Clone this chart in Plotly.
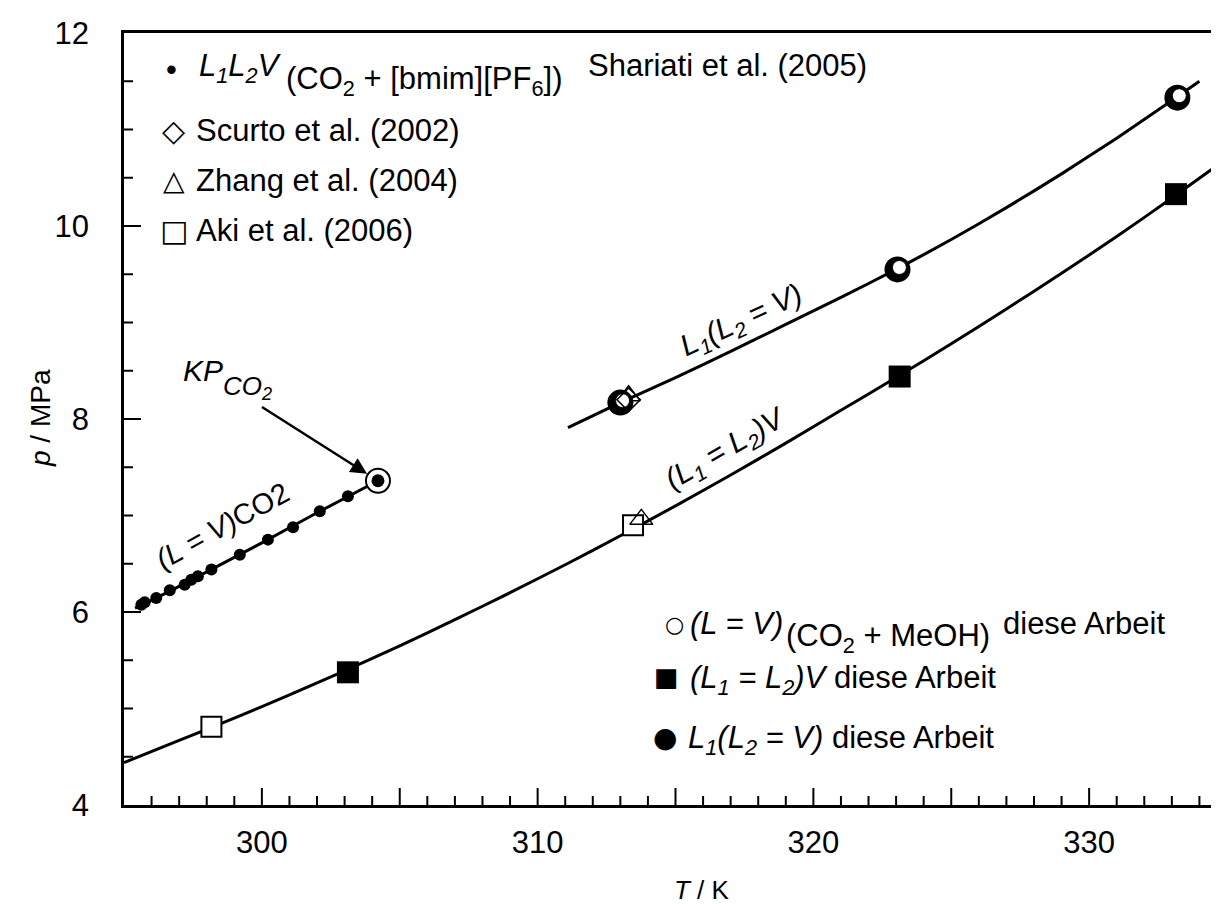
import plotly.graph_objects as go

# ---------------- data ----------------
# CO2 vapour pressure, Shariati et al. (2005)
co2_T = [295.63, 295.75, 296.17, 296.66, 297.20, 297.44, 297.68, 298.17,
         299.20, 300.22, 301.13, 302.10, 303.12, 304.21]
co2_p = [6.076, 6.10, 6.145, 6.225, 6.283, 6.335, 6.37, 6.44,
         6.594, 6.75, 6.878, 7.044, 7.20, 7.36]
co2_curve_T = [295.40, 296.0, 298.0, 300.0, 302.0, 304.21]
co2_curve_p = [6.04, 6.12, 6.415, 6.717, 7.028, 7.36]

# critical point of CO2
kp_T = [304.21]
kp_p = [7.36]

# L1(L2 = V) curve
upper_T = [311.1, 313, 315, 317, 319, 321, 323, 325, 327, 329, 331, 333, 334]
upper_p = [7.91, 8.17, 8.43, 8.70, 8.98, 9.26, 9.55, 9.86, 10.19, 10.54, 10.91, 11.30, 11.50]

# (L1 = L2)V curve
lower_T = [295, 297, 299, 301, 303, 305, 307, 309, 311, 313, 315,
           317, 319, 321, 323, 325, 327, 329, 331, 333, 335]
lower_p = [4.44, 4.67, 4.90, 5.14, 5.39, 5.65, 5.92, 6.20, 6.49, 6.79, 7.10,
           7.42, 7.75, 8.09, 8.43, 8.78, 9.14, 9.51, 9.89, 10.29, 10.70]

# this work
lcep_T = [303.12, 323.13, 333.15]          # (L1 = L2)V  filled squares
lcep_p = [5.375, 8.44, 10.33]
ucep_T = [313.0, 323.05, 333.2]            # L1(L2 = V)  filled circles
ucep_p = [8.17, 9.55, 11.33]
meoh_T = [313.08, 323.12, 333.27]          # (L = V)(CO2 + MeOH) open circles
meoh_p = [8.19, 9.57, 11.35]

# literature
scurto_T = [313.3]
scurto_p = [8.20]
zhang_T = [313.3, 313.76]
zhang_p = [8.24, 6.96]
aki_T = [298.17, 313.46]
aki_p = [4.81, 6.90]

# axes
x_range = [295, 335]
y_range = [4, 12]
x_labels = [300, 310, 320, 330]
y_labels = [4, 6, 8, 10, 12]
x_minor_step, x_major_step = 1, 5
y_minor_step, y_major_step = 0.5, 2

# ---------------- figure ----------------
W, H = 1219, 904
L, R, T, B = 116, 0, 25, 107
PW, PH = W - L - R, H - T - B
FONT = "Liberation Sans, Arial, sans-serif"
SYM = "DejaVu Sans, sans-serif"
FS = 31
MAJOR_LEN, MINOR_LEN = 17, 9


def px(x):
    return (x - L) / PW


def py(y):
    return (H - B - y) / PH


fig = go.Figure()

line_style = dict(color="black", width=3, shape="spline", smoothing=0.6)

fig.add_trace(go.Scatter(x=lower_T, y=lower_p, mode="lines", line=line_style,
                         showlegend=False, hoverinfo="skip"))
fig.add_trace(go.Scatter(x=upper_T, y=upper_p, mode="lines", line=line_style,
                         showlegend=False, hoverinfo="skip"))
fig.add_trace(go.Scatter(x=co2_curve_T, y=co2_curve_p, mode="lines", line=line_style,
                         showlegend=False, hoverinfo="skip"))
fig.add_trace(go.Scatter(x=co2_T, y=co2_p, mode="markers",
                         marker=dict(symbol="circle", size=12, color="black"),
                         showlegend=False))
fig.add_trace(go.Scatter(x=kp_T, y=kp_p, mode="markers",
                         marker=dict(symbol="circle", size=24, color="white",
                                     line=dict(color="black", width=2)),
                         showlegend=False))
# literature
fig.add_trace(go.Scatter(x=aki_T, y=aki_p, mode="markers",
                         marker=dict(symbol="square", size=20, color="white",
                                     line=dict(color="black", width=2)),
                         showlegend=False))
fig.add_trace(go.Scatter(x=zhang_T, y=zhang_p, mode="markers",
                         marker=dict(symbol="triangle-up-open", size=20, color="black",
                                     line=dict(color="black", width=1.5)),
                         showlegend=False))
# this work
fig.add_trace(go.Scatter(x=lcep_T, y=lcep_p, mode="markers",
                         marker=dict(symbol="square", size=22, color="black"),
                         showlegend=False))
fig.add_trace(go.Scatter(x=ucep_T, y=ucep_p, mode="markers",
                         marker=dict(symbol="circle", size=26, color="black"),
                         showlegend=False))
fig.add_trace(go.Scatter(x=meoh_T, y=meoh_p, mode="markers",
                         marker=dict(symbol="circle", size=14, color="white",
                                     line=dict(color="black", width=1)),
                         showlegend=False))
fig.add_trace(go.Scatter(x=scurto_T, y=scurto_p, mode="markers",
                         marker=dict(symbol="diamond-open", size=18, color="black",
                                     line=dict(color="black", width=1.5)),
                         showlegend=False))
fig.add_trace(go.Scatter(x=kp_T, y=kp_p, mode="markers",
                         marker=dict(symbol="circle", size=13, color="black"),
                         showlegend=False))

# ---------------- inside ticks (drawn as axis-anchored shapes) ----------------
shapes = []
n_x = int(round((x_range[1] - x_range[0]) / x_minor_step))
for i in range(1, n_x):
    v = x_range[0] + i * x_minor_step
    ln = MAJOR_LEN if abs(v / x_major_step - round(v / x_major_step)) < 1e-9 else MINOR_LEN
    shapes.append(dict(type="line", xref="x", yref="paper", x0=v, x1=v,
                       y0=0, y1=ln / PH, line=dict(color="black", width=2), layer="above"))
n_y = int(round((y_range[1] - y_range[0]) / y_minor_step))
for i in range(1, n_y):
    v = y_range[0] + i * y_minor_step
    ln = MAJOR_LEN if abs(v / y_major_step - round(v / y_major_step)) < 1e-9 else MINOR_LEN
    shapes.append(dict(type="line", xref="paper", yref="y", x0=0, x1=ln / PW,
                       y0=v, y1=v, line=dict(color="black", width=2), layer="above"))

ann = []


def text(x, y, s, size=FS, xanchor="left", angle=0, family=FONT):
    ann.append(dict(x=px(x), y=py(y), xref="paper", yref="paper", text=s,
                    showarrow=False, xanchor=xanchor, yanchor="middle",
                    textangle=angle, font=dict(family=family, size=size, color="black")))


# top-left legend
text(163, 62, "•", size=FS, xanchor="center")
text(189, 60, "<i>L<sub>1</sub>L<sub>2</sub>V</i>")
text(276, 73, "(CO<sub>2</sub> + [bmim][PF<sub>6</sub>])")
text(578, 57, "Shariati et al. (2005)")
text(165, 122, "◇", size=30, xanchor="center", family=SYM)
text(186, 122, "Scurto et al. (2002)")
text(166, 172, "△", size=28, xanchor="center", family=SYM)
text(186, 172, "Zhang et al. (2004)")
text(166, 222, "□", size=30, xanchor="center", family=SYM)
text(186, 222, "Aki et al. (2006)")

# bottom-right legend
text(666, 616, "○", size=22, xanchor="center", family=SYM)
text(680, 615, "<i>(L = V)</i>")
text(776, 630, "(CO<sub>2</sub> + MeOH)")
text(993, 615, "diese Arbeit")
text(658, 669, "■", size=26, xanchor="center", family=SYM)
text(680, 672, "<i>(L<sub>1</sub> = L<sub>2</sub>)V</i> diese Arbeit")
text(657, 729, "●", size=28, xanchor="center", family=SYM)
text(678, 732, "<i>L<sub>1</sub>(L<sub>2</sub> = V)</i> diese Arbeit")

# curve labels
text(214, 518, "<i>(L = V)</i>CO2", size=29, xanchor="center", angle=-29)
text(733, 313, "<i>L<sub>1</sub>(L<sub>2</sub> = V)</i>", size=30, xanchor="center", angle=-25)
text(718, 441, "<i>(L<sub>1</sub> = L<sub>2</sub>)V</i>", size=30, xanchor="center", angle=-30)

# KP label
text(195, 362, "<i>KP</i>", size=30, xanchor="center")
text(213, 379, "<i>CO<sub>2</sub></i>", size=26, xanchor="left")

# axis titles
text(694, 882, "<i>T</i> / K", size=26, xanchor="center")
ann.append(dict(x=px(32), y=py(410), xref="paper", yref="paper", text="<i>p</i> / MPa",
                showarrow=False, xanchor="center", yanchor="middle", textangle=-90,
                font=dict(family=FONT, size=28, color="black")))

# KP arrow
ann.append(dict(x=kp_T[0], y=kp_p[0], xref="x", yref="y", text=" ",
                showarrow=True, ax=-118, ay=-75, axref="pixel", ayref="pixel",
                arrowhead=2, arrowsize=1.3, arrowwidth=2.5, arrowcolor="black",
                standoff=13, font=dict(family=FONT, size=4, color="black")))

fig.update_layout(
    width=W, height=H,
    margin=dict(l=L, r=R, t=T, b=B, pad=0),
    paper_bgcolor="white", plot_bgcolor="white",
    annotations=ann, shapes=shapes,
    showlegend=False,
    xaxis=dict(range=x_range, tickmode="array", tickvals=x_labels,
               ticktext=[str(v) for v in x_labels], ticks="",
               showline=True, linewidth=2.5, linecolor="black", mirror=True,
               showgrid=False, zeroline=False, ticklabelstandoff=8,
               tickfont=dict(family=FONT, size=FS, color="black")),
    yaxis=dict(range=y_range, tickmode="array", tickvals=y_labels,
               ticktext=[str(v) for v in y_labels], ticks="",
               showline=True, linewidth=2.5, linecolor="black", mirror=False,
               showgrid=False, zeroline=False, ticklabelstandoff=26,
               tickfont=dict(family=FONT, size=FS, color="black")),
)

fig.write_html("out.html")
